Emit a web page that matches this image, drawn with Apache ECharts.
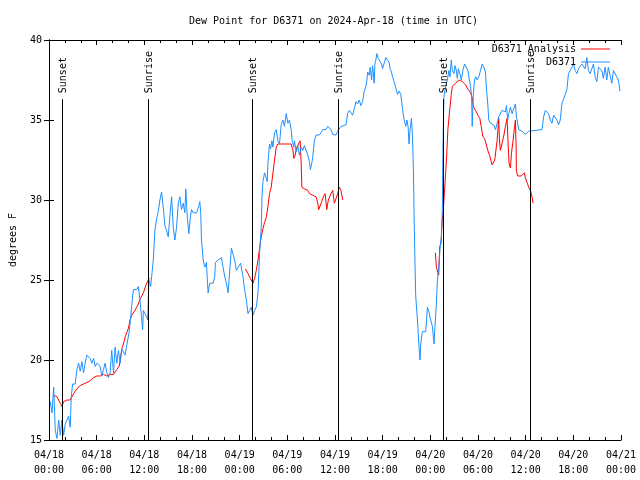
<!DOCTYPE html>
<html>
<head>
<meta charset="utf-8">
<script src="https://cdn.jsdelivr.net/npm/echarts@6/dist/echarts.min.js"></script>
<style>html,body{margin:0;padding:0;background:#fff}#c{width:640px;height:480px}</style>
</head>
<body>
<div id="c"></div>
<script>
// hours since 2024-04-18 00:00 UTC, dew point in degrees F
const stationObs = [[0.16,17.4],[0.38,16.7],[0.59,18.3],[0.79,15.6],[1.00,15.1],[1.22,16.25],[1.42,15.3],[1.63,16.25],[1.84,15.3],[2.04,16.0],[2.26,15.9],[2.47,16.5],[2.67,15.8],[2.80,17.7],[2.97,18.5],[3.30,18.5],[3.51,19.4],[3.73,19.8],[3.93,19.3],[4.14,19.9],[4.35,19.2],[4.55,19.8],[4.77,20.3],[4.98,20.4],[5.18,20.1],[5.39,19.8],[5.61,20.1],[5.81,19.6],[6.02,19.8],[6.23,19.7],[6.44,19.6],[6.65,19.0],[6.86,19.4],[7.06,19.8],[7.28,19.2],[7.49,18.9],[7.69,19.2],[7.90,20.6],[8.12,19.2],[8.32,20.8],[8.53,19.8],[8.74,20.6],[8.94,19.8],[9.16,20.7],[9.37,20.6],[9.57,20.3],[9.78,20.2],[9.91,21.25],[10.07,21.7],[10.25,22.5],[10.41,23.4],[10.62,24.4],[10.83,24.5],[11.04,24.4],[11.25,24.6],[11.45,23.75],[11.67,23.75],[11.79,21.9],[11.88,23.1],[12.08,22.9],[12.29,22.7],[12.42,22.5],[12.51,24.0],[12.58,25.0],[12.80,24.6],[12.92,25.2],[13.13,26.25],[13.33,28.1],[13.55,28.85],[13.76,29.3],[13.96,30.0],[14.17,30.5],[14.39,29.5],[14.59,28.4],[14.80,28.1],[15.01,27.7],[15.22,29.0],[15.43,30.2],[15.64,28.3],[15.84,27.5],[16.06,28.3],[16.27,29.8],[16.47,30.2],[16.68,29.4],[16.90,29.8],[17.10,29.2],[17.22,30.7],[17.40,29.0],[17.60,27.9],[17.81,29.0],[17.94,29.4],[18.15,29.2],[18.57,29.2],[18.85,29.6],[18.98,29.9],[19.10,29.2],[19.19,27.5],[19.41,26.25],[19.61,25.8],[19.82,26.1],[19.95,24.8],[20.03,24.2],[20.23,24.8],[20.66,24.8],[20.86,25.2],[20.95,26.1],[21.29,26.25],[21.70,26.4],[21.91,25.8],[22.12,25.2],[22.33,24.8],[22.54,24.2],[22.74,24.2],[22.96,27.0],[23.17,26.6],[23.37,26.25],[23.58,25.6],[23.80,25.7],[24.12,26.05],[24.42,25.2],[24.62,24.4],[24.84,23.75],[25.05,22.9],[25.25,23.1],[25.46,23.3],[25.68,22.8],[25.88,23.1],[26.09,23.3],[26.31,24.2],[26.51,26.7],[26.72,28.3],[26.81,30.2],[26.93,31.15],[27.13,31.7],[27.35,31.8],[27.47,31.15],[27.56,32.3],[27.76,33.5],[27.89,33.2],[28.06,33.7],[28.19,33.3],[28.39,34.2],[28.60,34.4],[28.81,33.7],[29.01,33.5],[29.23,34.7],[29.44,35.0],[29.64,34.6],[29.86,35.4],[30.07,34.8],[30.27,35.0],[30.48,34.4],[30.61,33.7],[30.82,33.3],[30.90,33.7],[31.11,33.0],[31.32,33.4],[31.52,32.8],[31.74,33.3],[31.95,33.1],[32.15,33.4],[32.36,33.3],[32.58,32.8],[32.78,32.4],[32.90,31.9],[33.08,32.3],[33.20,32.7],[33.40,33.7],[33.62,34.06],[34.03,34.06],[34.25,34.2],[34.46,34.4],[34.66,34.3],[34.87,34.4],[35.09,34.6],[35.29,34.7],[35.50,34.4],[35.71,34.1],[36.13,34.06],[36.34,34.3],[36.54,34.4],[36.75,34.6],[36.97,34.7],[37.38,34.7],[37.59,35.4],[37.80,35.6],[38.01,35.6],[38.22,35.3],[38.42,35.7],[38.64,36.15],[38.85,36.0],[39.05,36.25],[39.26,35.9],[39.48,36.15],[39.68,36.8],[39.89,37.1],[40.02,37.5],[40.10,38.0],[40.31,37.8],[40.43,38.3],[40.61,37.5],[40.73,38.4],[40.93,37.3],[41.02,38.5],[41.14,38.75],[41.27,39.15],[41.43,38.85],[41.68,38.75],[41.86,38.5],[41.98,38.2],[42.19,38.2],[42.40,38.9],[42.61,38.9],[42.81,38.6],[42.94,38.2],[43.11,38.0],[43.24,37.7],[43.44,37.4],[43.65,37.0],[43.87,36.6],[44.07,36.8],[44.28,36.6],[44.50,35.7],[44.70,35.0],[44.91,34.6],[45.04,35.0],[45.20,34.6],[45.32,33.5],[45.45,34.4],[45.62,35.1],[45.75,34.0],[45.87,31.9],[45.95,29.2],[46.07,26.0],[46.16,24.0],[46.38,22.5],[46.58,20.8],[46.70,20.0],[46.79,21.0],[47.00,21.77],[47.42,21.77],[47.63,23.3],[47.83,23.0],[48.04,22.5],[48.26,22.1],[48.46,21.0],[48.58,22.1],[48.76,23.5],[48.89,25.0],[49.09,26.0],[49.21,26.9],[49.39,27.7],[49.51,29.4],[49.59,33.3],[49.71,36.5],[49.93,37.1],[50.14,37.5],[50.34,38.1],[50.47,37.7],[50.64,38.75],[50.77,38.1],[50.97,37.9],[51.10,38.4],[51.27,38.1],[51.40,37.6],[51.52,38.2],[51.72,37.9],[51.90,37.5],[52.10,38.1],[52.31,38.5],[52.52,38.4],[52.72,38.1],[52.94,38.0],[53.06,37.1],[53.19,36.5],[53.27,34.6],[53.40,36.5],[53.56,37.5],[53.73,37.7],[53.90,37.5],[54.10,37.7],[54.32,38.1],[54.53,38.5],[54.73,38.3],[54.94,38.0],[55.07,36.9],[55.23,36.0],[55.36,35.0],[55.57,34.8],[55.98,34.7],[56.20,34.4],[56.41,34.8],[56.61,35.2],[56.82,35.2],[57.04,35.6],[57.24,35.7],[57.45,35.5],[57.58,35.9],[57.74,35.0],[57.87,35.4],[58.08,35.8],[58.29,35.4],[58.49,35.7],[58.71,36.0],[58.83,35.2],[58.92,35.0],[59.12,34.4],[59.33,34.4],[59.55,34.3],[59.75,34.2],[59.96,34.1],[60.17,34.2],[60.38,34.3],[60.59,34.4],[62.06,34.4],[62.26,35.2],[62.47,35.6],[62.68,35.5],[62.88,35.4],[63.10,35.0],[63.31,34.8],[63.51,35.3],[63.72,35.2],[63.94,35.0],[64.14,34.7],[64.35,35.0],[64.56,36.0],[64.76,36.3],[64.98,36.6],[65.19,36.9],[65.39,37.9],[65.61,38.1],[65.82,38.3],[66.02,38.5],[66.23,38.1],[66.45,37.9],[66.65,38.2],[66.86,38.2],[67.07,38.5],[67.27,38.6],[67.49,38.2],[67.70,38.9],[67.90,38.1],[68.11,37.9],[68.33,38.2],[68.53,38.5],[68.74,37.7],[68.96,37.4],[69.16,38.3],[69.37,38.4],[69.58,38.1],[69.78,37.6],[70.00,38.3],[70.21,37.5],[70.41,38.3],[70.62,37.8],[70.84,37.3],[71.04,38.1],[71.25,37.9],[71.46,37.7],[71.67,37.5],[71.88,36.8]];

const analysisDay1 = [[0.59,17.8],[1.00,17.7],[1.42,17.3],[1.63,17.1],[1.84,17.4],[2.26,17.5],[2.67,17.5],[2.89,17.7],[3.10,17.9],[3.51,18.2],[3.93,18.4],[4.35,18.5],[4.77,18.6],[5.18,18.7],[5.61,18.9],[6.02,19.0],[6.44,19.0],[6.86,19.1],[7.28,19.0],[7.69,19.1],[8.12,19.1],[8.53,19.4],[8.82,19.6],[8.99,20.0],[9.16,20.7],[9.37,21.0],[9.57,21.4],[9.78,21.7],[10.00,22.0],[10.20,22.5],[10.41,22.8],[10.62,22.9],[10.83,23.1],[11.04,23.3],[11.25,23.5],[11.45,23.8],[11.67,24.0],[11.88,24.2],[12.08,24.5],[12.29,24.8],[12.51,25.0],[12.71,25.1]];
const analysisDay2 = [[24.71,25.7],[25.05,25.4],[25.34,25.1],[25.68,24.8],[25.88,25.1],[26.09,25.6],[26.31,26.25],[26.51,27.0],[26.72,27.7],[26.93,28.2],[27.13,28.6],[27.35,28.9],[27.56,29.6],[27.76,30.4],[27.97,30.8],[28.19,31.7],[28.39,32.5],[28.60,33.3],[28.81,33.5],[29.01,33.4],[29.23,33.5],[30.48,33.5],[30.70,33.1],[30.82,32.6],[30.98,32.8],[31.20,33.3],[31.40,33.5],[31.61,33.7],[31.74,32.3],[31.83,30.8],[32.15,30.7],[32.58,30.6],[32.78,30.4],[33.20,30.3],[33.62,30.2],[33.83,29.8],[33.95,29.4],[34.25,29.8],[34.53,30.2],[34.75,30.4],[34.96,29.4],[35.16,30.0],[35.50,30.4],[35.71,30.6],[35.92,29.8],[36.13,30.1],[36.34,30.4],[36.54,30.8],[36.75,30.6],[36.97,30.0]];
const analysisDay3 = [[48.64,26.7],[48.76,25.8],[48.93,25.8],[49.05,25.3],[49.18,27.1],[49.35,27.3],[49.47,28.5],[49.60,29.2],[49.77,30.4],[49.93,31.7],[50.05,32.7],[50.21,34.4],[50.43,35.6],[50.64,36.6],[50.77,37.1],[50.97,37.2],[51.18,37.3],[51.40,37.4],[51.60,37.5],[51.81,37.5],[52.02,37.4],[52.22,37.3],[52.43,37.2],[52.64,37.0],[52.84,37.0],[53.06,36.7],[53.27,36.4],[53.40,35.9],[53.56,35.7],[53.81,35.5],[53.98,35.3],[54.23,35.1],[54.40,34.6],[54.60,34.0],[54.82,33.85],[55.03,33.5],[55.23,33.1],[55.45,32.8],[55.66,32.4],[55.78,32.2],[55.98,32.1],[56.11,32.5],[56.23,33.0],[56.41,33.75],[56.61,35.1],[56.70,33.75],[56.82,33.1],[57.04,33.2],[57.24,34.0],[57.45,34.6],[57.66,35.1],[57.79,33.5],[57.91,32.3],[58.08,32.0],[58.21,32.9],[58.42,33.75],[58.61,34.6],[58.71,35.0],[58.80,33.3],[58.83,31.8],[59.00,31.5],[59.21,31.5],[59.42,31.5],[59.62,31.6],[59.84,31.7],[59.96,31.4],[60.17,31.1],[60.38,30.8],[60.59,30.6],[60.80,30.2],[60.93,29.8]];

const sunTimes = [1.59, 12.46, 25.50, 36.41, 49.58, 60.50];
const sunNames = ['Sunset','Sunrise','Sunset','Sunrise','Sunset','Sunrise'];

const tickDates = ['04/18','04/18','04/18','04/18','04/19','04/19','04/19','04/19','04/20','04/20','04/20','04/20','04/21'];
const tickTimes = ['00:00','06:00','12:00','18:00','00:00','06:00','12:00','18:00','00:00','06:00','12:00','18:00','00:00'];
const yTicks = [15, 20, 25, 30, 35, 40];

const FONT = 'DejaVu Sans Mono';
const analysisData = analysisDay1.concat([[18.0, null]], analysisDay2, [[42.0, null]], analysisDay3);

const chart = echarts.init(document.getElementById('c'), null, {renderer: 'canvas'});
const txt = {fontFamily: FONT, fontSize: 10, color: '#000'};
const lineTop = 36.3;

const xBase = {
  type: 'value', min: 0, max: 72, interval: 6,
  axisLine: {show: true, lineStyle: {color: '#000', width: 1}},
  axisTick: {show: true, inside: true, length: 5, lineStyle: {color: '#000'}},
  minorTick: {show: true, splitNumber: 3, length: 3, lineStyle: {color: '#000'}},
  splitLine: {show: false}
};
const yBase = {
  type: 'value', min: yTicks[0], max: yTicks[yTicks.length - 1], interval: 5,
  axisLine: {show: true, lineStyle: {color: '#000', width: 1}},
  axisTick: {show: true, inside: true, length: 5, lineStyle: {color: '#000'}},
  splitLine: {show: false}
};

chart.setOption({
  animation: false,
  backgroundColor: '#fff',
  title: {
    text: 'Dew Point for D6371 on 2024-Apr-18 (time in UTC)',
    left: 189, top: 16, padding: 0,
    textStyle: {fontFamily: FONT, fontSize: 10, fontWeight: 'normal', color: '#000'}
  },
  legend: [
    {data: ['D6371 Analysis'], orient: 'vertical', align: 'right', right: 30, top: 44, padding: 0,
     icon: 'rect', itemWidth: 29, itemHeight: 1, textStyle: txt, selectedMode: false},
    {data: ['D6371'], orient: 'vertical', align: 'right', right: 30, top: 57, padding: 0,
     icon: 'rect', itemWidth: 29, itemHeight: 1, textStyle: txt, selectedMode: false}
  ],
  grid: {left: 47, right: 19, top: 40, bottom: 40, containLabel: false},
  xAxis: [
    Object.assign({}, xBase, {
      position: 'bottom',
      axisLabel: {show: true, margin: 8, lineHeight: 15, fontFamily: FONT, fontSize: 10, color: '#000',
        formatter: v => { const i = Math.round(v / 6); return tickDates[i] + '\n' + tickTimes[i]; }}
    }),
    Object.assign({}, xBase, {position: 'top', axisLabel: {show: false}})
  ],
  yAxis: [
    Object.assign({}, yBase, {
      position: 'left',
      name: 'degrees F', nameLocation: 'middle', nameGap: 31, nameRotate: 90,
      nameTextStyle: {fontFamily: FONT, fontSize: 10, color: '#000'},
      axisLabel: {show: true, margin: 7, fontFamily: FONT, fontSize: 10, color: '#000'}
    }),
    Object.assign({}, yBase, {position: 'right', axisLabel: {show: false}})
  ],
  series: [
    {
      name: 'D6371 Analysis', type: 'line', data: analysisData, showSymbol: false, symbol: 'none',
      connectNulls: false, lineStyle: {color: '#ff0000', width: 1}, itemStyle: {color: '#ff0000'}, z: 2
    },
    {
      name: 'D6371', type: 'line', data: stationObs, showSymbol: false, symbol: 'none',
      lineStyle: {color: '#1e90ff', width: 1}, itemStyle: {color: '#1e90ff'}, z: 3
    },
    {
      name: 'sun', type: 'custom', z: 4, silent: true,
      data: sunTimes.map((t, i) => [t, lineTop, i]),
      renderItem: (params, api) => {
        const p0 = api.coord([api.value(0), yTicks[0]]);
        const p1 = api.coord([api.value(0), api.value(1)]);
        const idx = api.value(2);
        const x = Math.round(p0[0]) + 0.5;
        return {
          type: 'group',
          children: [
            {type: 'line', shape: {x1: x, y1: p0[1], x2: x, y2: p1[1]}, style: {stroke: '#000', lineWidth: 1}},
            {type: 'text', x: x + 1, y: p1[1] - 6, rotation: Math.PI / 2,
             style: {text: sunNames[idx], align: 'left', verticalAlign: 'middle', font: '10px "' + FONT + '"', fill: '#000'}}
          ]
        };
      }
    }
  ]
});
</script>
</body>
</html>
